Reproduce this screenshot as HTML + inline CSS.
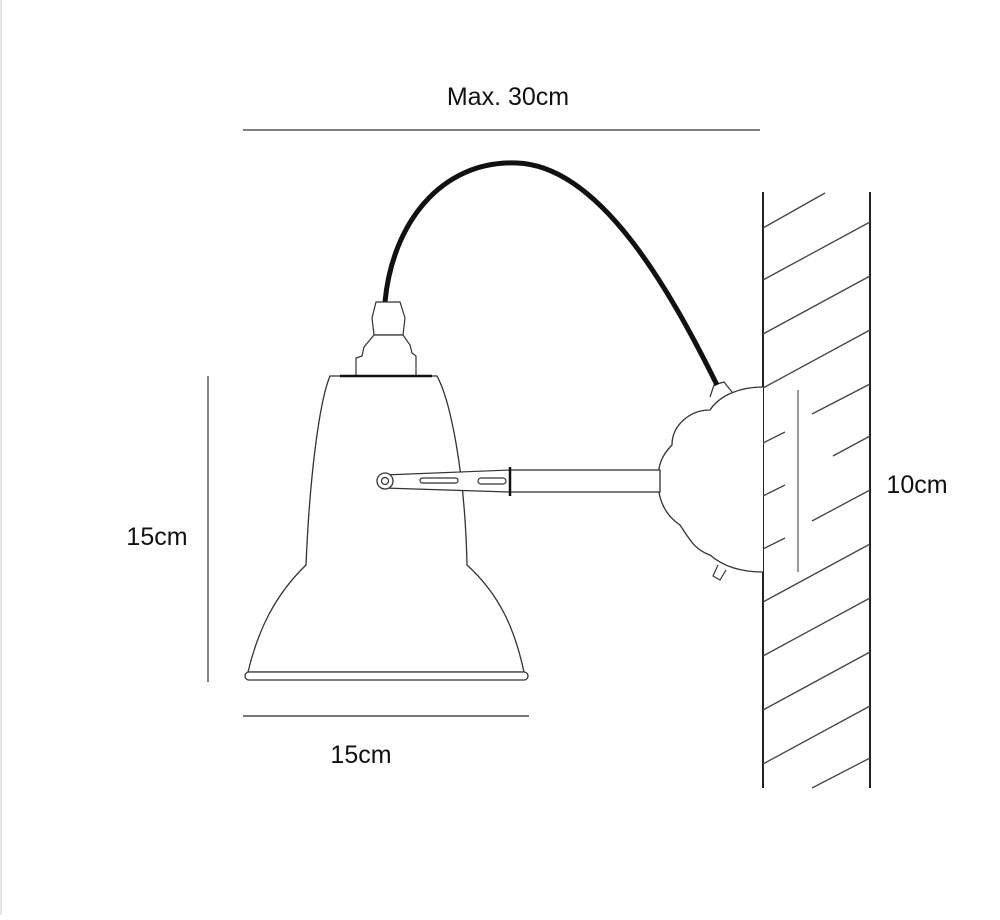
<!DOCTYPE html>
<html><head><style>
body{margin:0;background:#fff;}
.t{font-family:"Liberation Sans",sans-serif;font-size:25px;fill:#111;}
</style></head><body>
<svg width="1000" height="915" viewBox="0 0 1000 915" xmlns="http://www.w3.org/2000/svg">
<rect width="1000" height="915" fill="#fff"/>
<line x1="1" y1="0" x2="1" y2="915" stroke="#e6e6e6" stroke-width="2"/>
<!-- dimensions -->
<text class="t" x="508" y="105" text-anchor="middle">Max. 30cm</text>
<line x1="243" y1="130" x2="760" y2="130" stroke="#333" stroke-width="1.2"/>
<line x1="208" y1="376" x2="208" y2="682" stroke="#333" stroke-width="1.2"/>
<text class="t" x="157" y="545" text-anchor="middle">15cm</text>
<line x1="243" y1="716" x2="529" y2="716" stroke="#777" stroke-width="2"/>
<text class="t" x="361" y="763" text-anchor="middle">15cm</text>
<text class="t" x="917" y="493" text-anchor="middle">10cm</text>
<!-- wall -->
<g stroke="#222" fill="none">
<line x1="763" y1="192" x2="763" y2="788" stroke-width="2"/>
<line x1="870" y1="192" x2="870" y2="788" stroke-width="2"/>
</g>
<g stroke="#444" stroke-width="1.3">
<line x1="763" y1="228" x2="825" y2="193"/>
<line x1="763" y1="280" x2="870" y2="222"/>
<line x1="763" y1="334" x2="870" y2="276"/>
<line x1="763" y1="388" x2="870" y2="330"/>
<line x1="812" y1="414" x2="870" y2="384"/>
<line x1="833" y1="456" x2="870" y2="436"/>
<line x1="812" y1="521" x2="870" y2="490"/>
<line x1="763" y1="443" x2="785" y2="432"/>
<line x1="763" y1="496" x2="785" y2="485"/>
<line x1="763" y1="549" x2="785" y2="538"/>
<line x1="763" y1="602" x2="870" y2="544"/>
<line x1="763" y1="656" x2="870" y2="598"/>
<line x1="763" y1="710" x2="870" y2="652"/>
<line x1="763" y1="764" x2="870" y2="706"/>
<line x1="812" y1="788" x2="870" y2="758"/>
</g>
<line x1="798" y1="390" x2="798" y2="572" stroke="#777" stroke-width="1.5"/>
<!-- wall plate cloud -->
<path d="M763,387 C740,387 720,395 710,410 C690,410 672,425 672,445 C662,455 658,465 658,480 C658,500 665,515 680,525 C690,540 695,550 710,555 C725,568 745,572 763,572" fill="#fff" stroke="#333" stroke-width="1.3"/>
<path d="M710,397 L714,385 L724,382 L732,392" fill="#fff" stroke="#333" stroke-width="1.2"/>
<path d="M718,565 L713,576 L720,580 L726,570" fill="#fff" stroke="#333" stroke-width="1.2"/>
<!-- cable -->
<path d="M385,302 C392,225 440,160 517,163 C600,166 670,290 717,385" fill="none" stroke="#111" stroke-width="5"/>
<!-- socket -->
<path d="M374,335 L372,318 L376,302 L400,302 L405,318 L403,335 Z" fill="#fff" stroke="#333" stroke-width="1.2"/>
<path d="M356,376 L356,358 L362,356 L364,347 L374,335 L403,335 L410,345 L412,353 L416,356 L416,376 Z" fill="#fff" stroke="#333" stroke-width="1.2"/>
<!-- shade -->
<path d="M330,376 L437,376 C450,400 465,470 467,565 C500,595 515,630 524,672 L248,672 C258,630 275,595 306,565 C310,470 320,400 330,376 Z" fill="#fff" stroke="#333" stroke-width="1.3"/>
<line x1="340" y1="376" x2="432" y2="376" stroke="#111" stroke-width="2.5"/>
<rect x="245" y="672" width="283" height="8" rx="4" fill="#fff" stroke="#333" stroke-width="1.3"/>
<!-- arm -->
<rect x="510" y="470" width="150" height="22" fill="#fff" stroke="#333" stroke-width="1.3"/>
<path d="M384,475 L510,470 L510,492 L384,488 Z" fill="#fff" stroke="#333" stroke-width="1.2"/>
<line x1="510" y1="467" x2="510" y2="496" stroke="#111" stroke-width="2.5"/>
<rect x="420" y="478" width="38" height="5" rx="2.5" fill="#fff" stroke="#333" stroke-width="1.2"/>
<rect x="478" y="478" width="28" height="6" rx="3" fill="#fff" stroke="#333" stroke-width="1.2"/>
<circle cx="385" cy="481" r="8" fill="#fff" stroke="#333" stroke-width="1.3"/>
<circle cx="385" cy="481" r="3.5" fill="#fff" stroke="#333" stroke-width="1.2"/>
</svg>
</body></html>
